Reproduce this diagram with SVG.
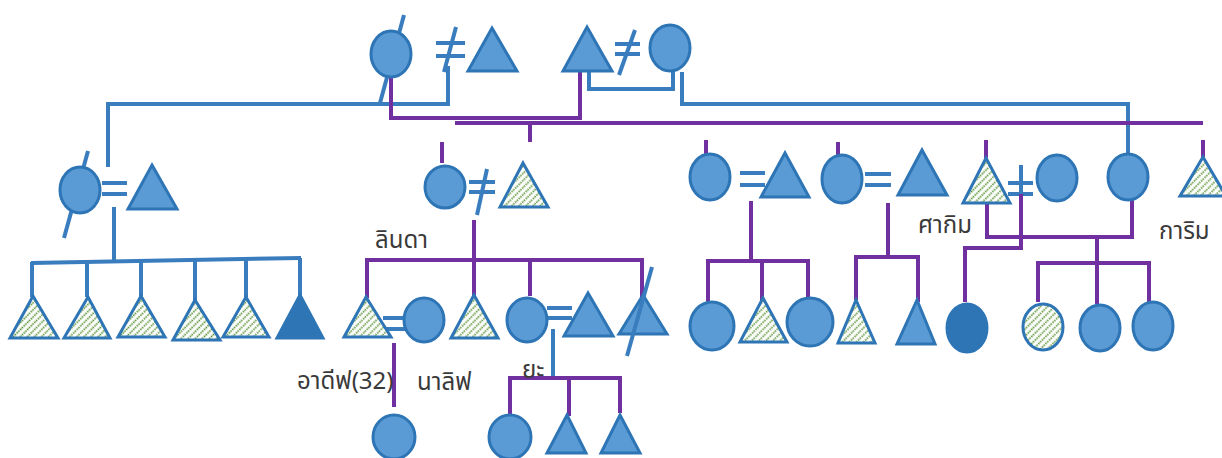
<svg xmlns="http://www.w3.org/2000/svg" width="1222" height="458" viewBox="0 0 1222 458">
<style>
.b{fill:#5b9bd5;stroke:#2e75b6;stroke-width:3}
.d{fill:#2e75b6;stroke:#2e75b6;stroke-width:3}
.h{fill:url(#hatch);stroke:#2e75b6;stroke-width:3}
.bl{fill:none;stroke:#3a7dbf;stroke-width:4}
.pl{fill:none;stroke:#7030a0;stroke-width:4}
.t{font-family:"Noto Sans Thai","Noto Sans","DejaVu Sans",sans-serif;font-size:24px;fill:#3a3a3a}
</style>
<defs>
<pattern id="hatch" patternUnits="userSpaceOnUse" width="5" height="5" patternTransform="rotate(45)">
<rect width="5" height="5" fill="#fff"/>
<line x1="2.5" y1="0" x2="2.5" y2="5" stroke="#4a8a24" stroke-width="1.7" stroke-dasharray="1.6 0.9"/>
</pattern>
</defs>
<rect width="1222" height="458" fill="#fff"/>
<g id="connectors">
<line class="bl" x1="404" y1="15" x2="380" y2="103"/>
<line class="bl" x1="436" y1="43" x2="465" y2="43"/>
<line class="bl" x1="436" y1="56" x2="465" y2="56"/>
<line class="bl" x1="456" y1="27" x2="444" y2="72"/>
<path class="bl" d="M448,66 V104 H108 V167"/>
<path class="pl" d="M391,77 V118 H580 V71"/>
<line class="bl" x1="615" y1="44" x2="640" y2="44"/>
<line class="bl" x1="615" y1="54" x2="640" y2="54"/>
<line class="bl" x1="635" y1="30" x2="619" y2="75"/>
<path class="bl" d="M589,71 V89 H673 V71"/>
<path class="bl" d="M682,72 V104 H1128 V154"/>
<line class="pl" x1="455" y1="123" x2="1203" y2="123" stroke-width="5"/>
<line class="pl" x1="530" y1="123" x2="530" y2="142"/>
<line class="pl" x1="442" y1="142" x2="442" y2="163"/>
<line class="pl" x1="706" y1="140" x2="706" y2="158"/>
<line class="pl" x1="838" y1="142" x2="838" y2="159"/>
<line class="pl" x1="986" y1="140" x2="986" y2="158"/>
<line class="pl" x1="1203" y1="140" x2="1203" y2="157"/>
<line class="bl" x1="88" y1="151" x2="64" y2="238"/>
<line class="bl" x1="102" y1="183" x2="127" y2="183"/>
<line class="bl" x1="102" y1="194" x2="127" y2="194"/>
<line class="bl" x1="114" y1="207" x2="114" y2="260"/>
<line class="bl" x1="31" y1="263" x2="301" y2="258"/>
<line class="bl" x1="32" y1="262" x2="32" y2="297"/>
<line class="bl" x1="87" y1="261" x2="87" y2="297"/>
<line class="bl" x1="141" y1="260" x2="141" y2="296"/>
<line class="bl" x1="195" y1="259" x2="195" y2="300"/>
<line class="bl" x1="246" y1="259" x2="246" y2="297"/>
<line class="bl" x1="300" y1="258" x2="300" y2="295"/>
<line class="bl" x1="469" y1="182" x2="495" y2="182"/>
<line class="bl" x1="469" y1="192" x2="495" y2="192"/>
<line class="bl" x1="487" y1="169" x2="477" y2="215"/>
<line class="pl" x1="474" y1="220" x2="474" y2="296"/>
<path class="pl" d="M367,298 V260 H642 V300"/>
<line class="pl" x1="530" y1="260" x2="530" y2="296"/>
<line class="bl" x1="383" y1="318" x2="405" y2="318"/>
<line class="bl" x1="386" y1="329" x2="405" y2="329"/>
<line class="bl" x1="547" y1="308" x2="572" y2="308"/>
<line class="bl" x1="547" y1="318" x2="572" y2="318"/>
<line class="bl" x1="553" y1="329" x2="553" y2="378"/>
<line class="pl" x1="394" y1="343" x2="394" y2="407"/>
<path class="pl" d="M510,416 V378 H620 V413"/>
<line class="pl" x1="569" y1="378" x2="569" y2="416"/>
<line class="bl" x1="740" y1="173" x2="765" y2="173"/>
<line class="bl" x1="740" y1="185" x2="765" y2="185"/>
<line class="pl" x1="751" y1="201" x2="751" y2="260"/>
<path class="pl" d="M708,303 V261 H808 V303"/>
<line class="pl" x1="762" y1="261" x2="762" y2="303"/>
<line class="bl" x1="865" y1="174" x2="891" y2="174"/>
<line class="bl" x1="865" y1="185" x2="891" y2="185"/>
<line class="pl" x1="888" y1="203" x2="888" y2="258"/>
<path class="pl" d="M856,300 V257 H918 V302"/>
<line class="bl" x1="1008" y1="183" x2="1033" y2="183"/>
<line class="bl" x1="1008" y1="194" x2="1033" y2="194"/>
<line class="bl" x1="1021" y1="165" x2="1021" y2="196"/>
<path class="pl" d="M1021,194 V248 H965 V302"/>
<path class="pl" d="M987,203 V237 H1132 V200"/>
<line class="pl" x1="1097" y1="237" x2="1097" y2="304"/>
<path class="pl" d="M1038,302 V263 H1149 V302"/>
</g>
<g id="n-top-f1"><ellipse class="b" cx="391" cy="54" rx="20" ry="23"/></g>
<g id="n-top-m1"><polygon class="b" points="492,28 517,71 468,71"/></g>
<g id="n-top-m2"><polygon class="b" points="587,27 612,71 563,71"/></g>
<g id="n-top-f2"><ellipse class="b" cx="670" cy="48" rx="20" ry="23"/></g>
<g id="n-left-f"><ellipse class="b" cx="80" cy="190" rx="20" ry="23"/></g>
<g id="n-left-m"><polygon class="b" points="152,165 177,209 128,209"/></g>
<g id="n-left-c1"><polygon class="h" points="33,296 58,338 10,338"/></g>
<g id="n-left-c2"><polygon class="h" points="88,297 110,338 64,338"/></g>
<g id="n-left-c3"><polygon class="h" points="141,296 165,337 118,337"/></g>
<g id="n-left-c4"><polygon class="h" points="195,300 220,340 173,340"/></g>
<g id="n-left-c5"><polygon class="h" points="246,297 269,337 223,337" stroke-width="2"/></g>
<g id="n-left-c6"><polygon class="d" points="300,295 323,338 277,338"/></g>
<g id="n-mid-f"><ellipse class="b" cx="445" cy="187" rx="20" ry="21"/></g>
<g id="n-mid-m"><polygon class="h" points="523,163 548,207 500,207"/></g>
<g id="n-linda"><text class="t" x="375" y="248">ลินดา</text></g>
<g id="n-adif"><polygon class="h" points="366,297 391,337 344,337"/><text class="t" x="297" y="389">อาดีฟ(32)</text></g>
<g id="n-nalif"><ellipse class="b" cx="424" cy="320" rx="20" ry="22"/><text class="t" x="417" y="390">นาลิฟ</text></g>
<g id="n-mid-c2"><polygon class="h" points="474,295 498,338 451,338"/></g>
<g id="n-ya"><ellipse class="b" cx="527" cy="320" rx="20" ry="22"/><text class="t" x="522" y="378">ยะ</text></g>
<g id="n-ya-h"><polygon class="b" points="588,293 613,336 564,336"/></g>
<g id="n-mid-c4"><polygon class="b" points="643,295 667,334 619,334"/><line class="bl" x1="652" y1="267" x2="627" y2="356"/></g>
<g id="n-gc1"><ellipse class="b" cx="394" cy="437" rx="21" ry="22"/></g>
<g id="n-gc2"><ellipse class="b" cx="510" cy="437" rx="21" ry="22"/></g>
<g id="n-gc3"><polygon class="b" points="567,415 586,453 547,453"/></g>
<g id="n-gc4"><polygon class="b" points="620,415 640,453 601,453"/></g>
<g id="n-r1-f"><ellipse class="b" cx="710" cy="177" rx="20" ry="23"/></g>
<g id="n-r1-m"><polygon class="b" points="785,153 809,197 761,197"/></g>
<g id="n-r1-c1"><ellipse class="b" cx="712" cy="326" rx="22" ry="24"/></g>
<g id="n-r1-c2"><polygon class="h" points="763,298 787,342 740,342"/></g>
<g id="n-r1-c3"><ellipse class="b" cx="810" cy="322" rx="23" ry="24"/></g>
<g id="n-r2-f"><ellipse class="b" cx="842" cy="179" rx="20" ry="24"/></g>
<g id="n-r2-m"><polygon class="b" points="922,150 947,195 898,195"/></g>
<g id="n-r2-c1"><polygon class="h" points="856,300 875,343 838,343"/></g>
<g id="n-r2-c2"><polygon class="b" points="917,300 935,344 897,344"/></g>
<g id="n-sakim"><polygon class="h" points="986,158 1010,203 963,203"/><text class="t" x="918" y="233">ศากิม</text></g>
<g id="n-r3-f"><ellipse class="b" cx="1057" cy="178" rx="20" ry="23"/></g>
<g id="n-r3-c1"><ellipse class="d" cx="967" cy="328" rx="20" ry="24"/></g>
<g id="n-r4-f"><ellipse class="b" cx="1128" cy="177" rx="20" ry="23"/></g>
<g id="n-r4-c1"><ellipse class="h" cx="1043" cy="327" rx="20" ry="23"/></g>
<g id="n-r4-c2"><ellipse class="b" cx="1100" cy="328" rx="20" ry="23"/></g>
<g id="n-r4-c3"><ellipse class="b" cx="1153" cy="326" rx="20" ry="24"/></g>
<g id="n-karim"><polygon class="h" points="1203,157 1226,196 1180,196"/><text class="t" x="1159" y="239">การิม</text></g>
</svg>
